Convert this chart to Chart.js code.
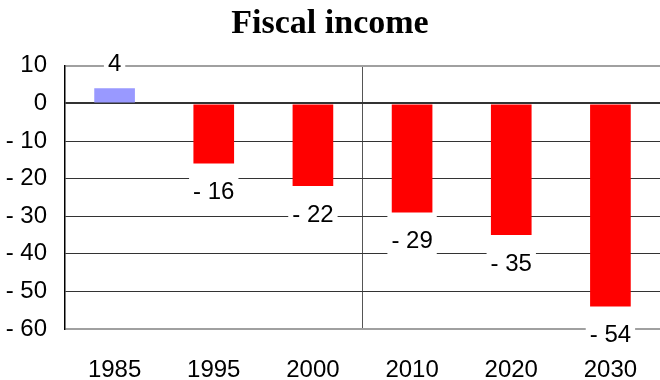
<!DOCTYPE html>
<html>
<head>
<meta charset="utf-8">
<script src="https://cdn.jsdelivr.net/npm/chart.js@4.4.0/dist/chart.umd.min.js"></script>
<style>
    html, body { margin: 0; padding: 0; background: #fff; }
    #wrap { width: 660px; height: 380px; }
</style>
</head>
<body>
<div id="wrap"><canvas id="grafico"></canvas></div>
<script>
const years = ['1985', '1995', '2000', '2010', '2020', '2030'];
const income = [4, -16, -22, -29, -35, -54];
const barColors = ['#9999FF', '#FF0000', '#FF0000', '#FF0000', '#FF0000', '#FF0000'];
const yTicks = [10, 0, -10, -20, -30, -40, -50, -60];

const tickFont = { family: "'Liberation Sans', Arial, sans-serif", size: 24 };

// "-16" is written as "- 16", as in the picture
const fmt = v => v < 0 ? '- ' + Math.abs(v) : String(v);

// value labels on a white box that hides the grid, below the bar end for negatives
const barLabels = {
    id: 'barLabels',
    afterDatasetsDraw(chart) {
        const ctx = chart.ctx;
        const meta = chart.getDatasetMeta(0);
        ctx.save();
        ctx.font = `${tickFont.size}px ${tickFont.family}`;
        ctx.textAlign = 'center';
        ctx.textBaseline = 'middle';
        meta.data.forEach((bar, i) => {
            const v = income[i];
            const text = fmt(v);
            const w = ctx.measureText(text).width + 8;
            ctx.fillStyle = '#fff';
            if (v >= 0) {
                ctx.fillRect(bar.x - w / 2, bar.y - 44, w, 42);
            } else {
                ctx.fillRect(bar.x - w / 2, bar.y + 2, w, 43);
            }
            ctx.fillStyle = '#000';
            ctx.fillText(text, bar.x, v >= 0 ? bar.y - 24 : bar.y + 29);
        });
        ctx.restore();
    }
};

const ctx = document.getElementById('grafico').getContext('2d');
new Chart(ctx, {
    type: 'bar',
    data: {
        labels: years,
        datasets: [{
            data: income,
            backgroundColor: barColors,
            borderWidth: 0,
            categoryPercentage: 1,
            barPercentage: 0.41
        }]
    },
    options: {
        responsive: true,
        maintainAspectRatio: false,
        animation: false,
        layout: { padding: 0 },
        plugins: {
            legend: { display: false },
            tooltip: { enabled: false },
            title: {
                display: true,
                text: 'Fiscal income',
                color: '#000',
                font: { family: "'Liberation Serif', 'Times New Roman', serif", size: 34, weight: 'bold' },
                padding: { top: 4, bottom: 21 }
            }
        },
        scales: {
            x: {
                offset: true,
                grid: {
                    offset: true,
                    drawTicks: true,
                    tickLength: 24,
                    tickColor: 'rgba(0,0,0,0)',
                    color: c => c.index === 3 ? '#555' : 'rgba(0,0,0,0)',
                    lineWidth: 1
                },
                border: { display: false },
                // labels pushed down with an invisible tick so the plot keeps its full width
                ticks: { color: '#000', font: tickFont, padding: 3 },
                afterFit: s => { s.height = 51; }
            },
            y: {
                min: -60,
                max: 10,
                afterBuildTicks: s => { s.ticks = yTicks.map(v => ({ value: v })); },
                grid: {
                    drawTicks: false,
                    color: c => (c.tick.value === 10 || c.tick.value === -60) ? '#a0a0a0' : '#333',
                    lineWidth: c => (c.tick.value === 10 || c.tick.value === -60 || c.tick.value === 0) ? 2 : 1
                },
                border: { display: true, color: '#000', width: 1.5 },
                ticks: { color: '#000', font: tickFont, padding: 18, callback: v => fmt(v) },
                afterFit: s => { s.width = 65; }
            }
        }
    },
    plugins: [barLabels]
});
</script>
</body>
</html>
